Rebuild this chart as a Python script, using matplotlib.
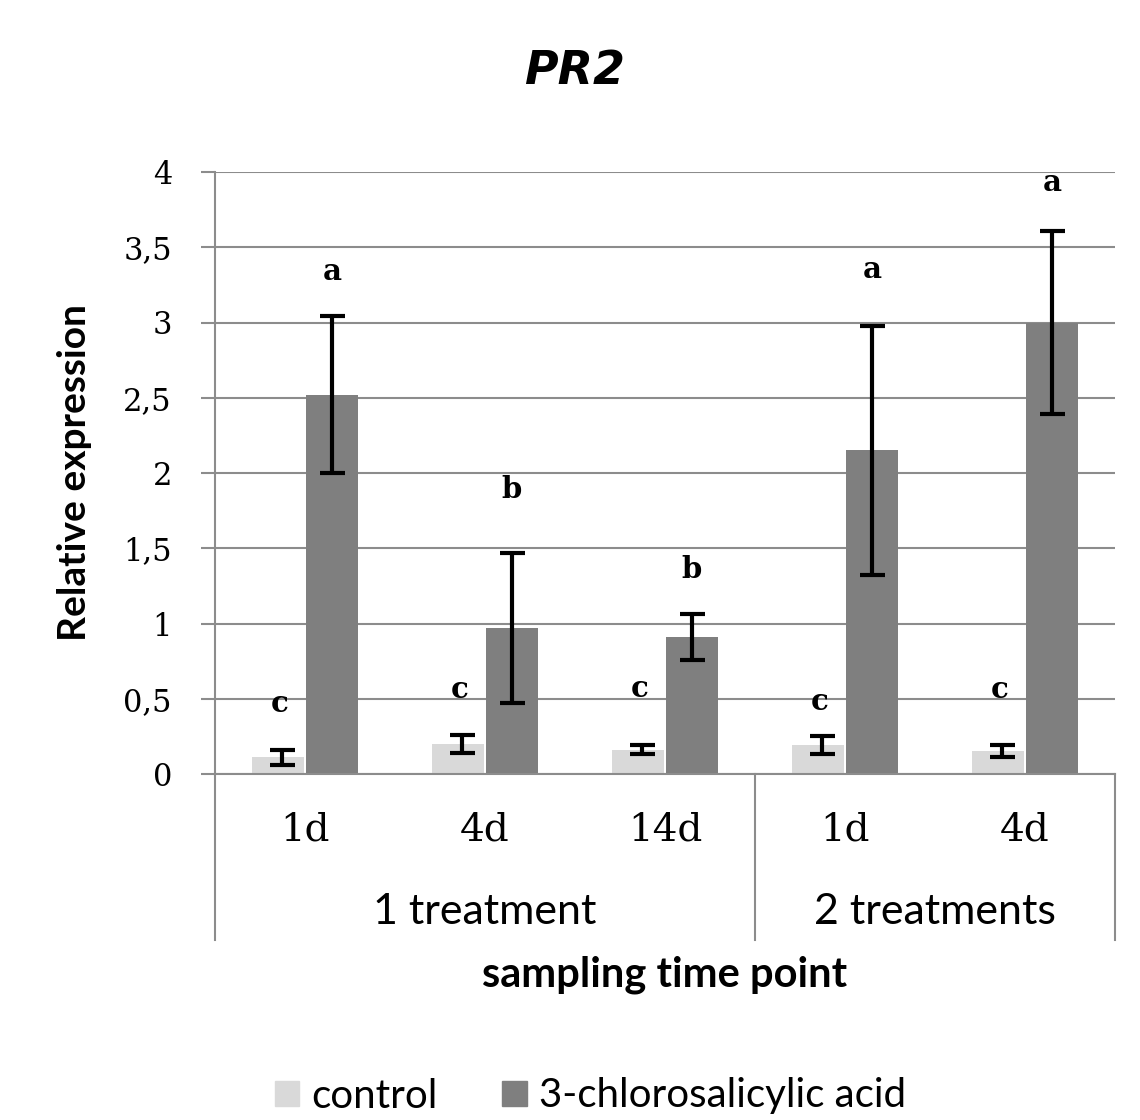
import matplotlib
matplotlib.use("Agg")
import matplotlib.pyplot as plt
from matplotlib.patches import Patch
import numpy as np

# values
days = ["1d", "4d", "14d", "1d", "4d"]
groups = ["1 treatment", "2 treatments"]
group_sizes = [3, 2]
control = [0.11, 0.20, 0.16, 0.19, 0.15]
control_err = [0.05, 0.06, 0.03, 0.06, 0.04]
acid = [2.52, 0.97, 0.91, 2.15, 3.00]
acid_err = [0.52, 0.50, 0.155, 0.83, 0.61]
control_letters = ["c", "c", "c", "c", "c"]
control_letter_y = [0.47, 0.56, 0.57, 0.48, 0.56]
acid_letters = ["a", "b", "b", "a", "a"]
acid_letter_y = [3.34, 1.89, 1.36, 3.35, 3.93]
yticks = [0, 0.5, 1, 1.5, 2, 2.5, 3, 3.5, 4]

CONTROL_COLOR = "#d9d9d9"
ACID_COLOR = "#7f7f7f"
GRID_COLOR = "#8c8c8c"
SERIF = "DejaVu Serif"
SANS = "Lato"

fig = plt.figure(figsize=(11.4, 11.2), dpi=100)
ax = fig.add_axes([215 / 1140, 1 - 774 / 1120, 900 / 1140, 602 / 1120])

x = np.arange(len(days))
w = 0.29
off = 0.15

ax.bar(x - off, control, w, color=CONTROL_COLOR, zorder=2)
ax.bar(x + off, acid, w, color=ACID_COLOR, zorder=2)
ax.errorbar(x - off + 0.02, control, yerr=control_err, fmt="none", ecolor="black",
            elinewidth=3, capsize=9, capthick=3, zorder=3)
ax.errorbar(x + off, acid, yerr=acid_err, fmt="none", ecolor="black",
            elinewidth=3, capsize=9, capthick=3, zorder=3)

# significance letters
for i in range(len(days)):
    ax.text(x[i] - off + 0.01, control_letter_y[i], control_letters[i], ha="center", va="center",
            fontsize=21, fontfamily=SERIF, fontweight="bold", zorder=4)
    ax.text(x[i] + off, acid_letter_y[i], acid_letters[i], ha="center", va="center",
            fontsize=21, fontfamily=SERIF, fontweight="bold", zorder=4)

ax.set_xlim(-0.5, len(days) - 0.5)
ax.set_ylim(0, 4)
ax.set_yticks(yticks)
ax.set_yticklabels([("%g" % t).replace(".", ",") for t in yticks], fontfamily=SERIF, fontsize=22)
ax.tick_params(axis="y", length=10, width=1.5, color=GRID_COLOR, pad=21)
ax.set_xticks([])

ax.yaxis.grid(True, color=GRID_COLOR, linewidth=1.5)
ax.set_axisbelow(True)
for s in ["top", "right"]:
    ax.spines[s].set_visible(False)
ax.spines["left"].set_color(GRID_COLOR)
ax.spines["left"].set_linewidth(1.5)
ax.spines["bottom"].set_color(GRID_COLOR)
ax.spines["bottom"].set_linewidth(1.5)

# category labels below the axis
trans = ax.get_xaxis_transform()
for i, d in enumerate(days):
    ax.text(x[i], -0.093, d, transform=trans, ha="center", va="center",
            fontsize=28, fontfamily=SERIF)

# group labels and separators
edges = np.concatenate([[0], np.cumsum(group_sizes)]) - 0.5
for e in edges:
    ax.plot([e, e], [0, -0.276], transform=trans, color=GRID_COLOR, lw=1.5, clip_on=False)
for g, lo, hi in zip(groups, edges[:-1], edges[1:]):
    ax.text((lo + hi) / 2, -0.229, g, transform=trans, ha="center", va="center",
            fontsize=31, fontfamily=SANS)

ax.set_xlabel("sampling time point", fontsize=30, fontweight="bold", fontfamily=SANS)
ax.xaxis.set_label_coords(0.5, -0.334)
ax.xaxis.label.set_va("center")
ax.set_ylabel("Relative expression", fontsize=28, fontweight="bold", fontfamily=SANS)
ax.yaxis.set_label_coords(-0.156, 0.5)
ax.yaxis.label.set_va("center")

fig.text(0.504, 1 - 72 / 1120, "PR2", ha="center", va="center", fontsize=33,
         fontweight="bold", fontstyle="italic", fontfamily="DejaVu Sans")

handles = [Patch(color=CONTROL_COLOR, label="control"),
           Patch(color=ACID_COLOR, label="3-chlorosalicylic acid")]
fig.legend(handles=handles, loc="center", bbox_to_anchor=(0.518, 1 - 1096 / 1120), ncol=2,
           frameon=False, handlelength=0.6, handleheight=0.6, handletextpad=0.3,
           columnspacing=1.6, borderpad=0.1, prop={"family": SANS, "size": 29})

plt.savefig("out.png")
